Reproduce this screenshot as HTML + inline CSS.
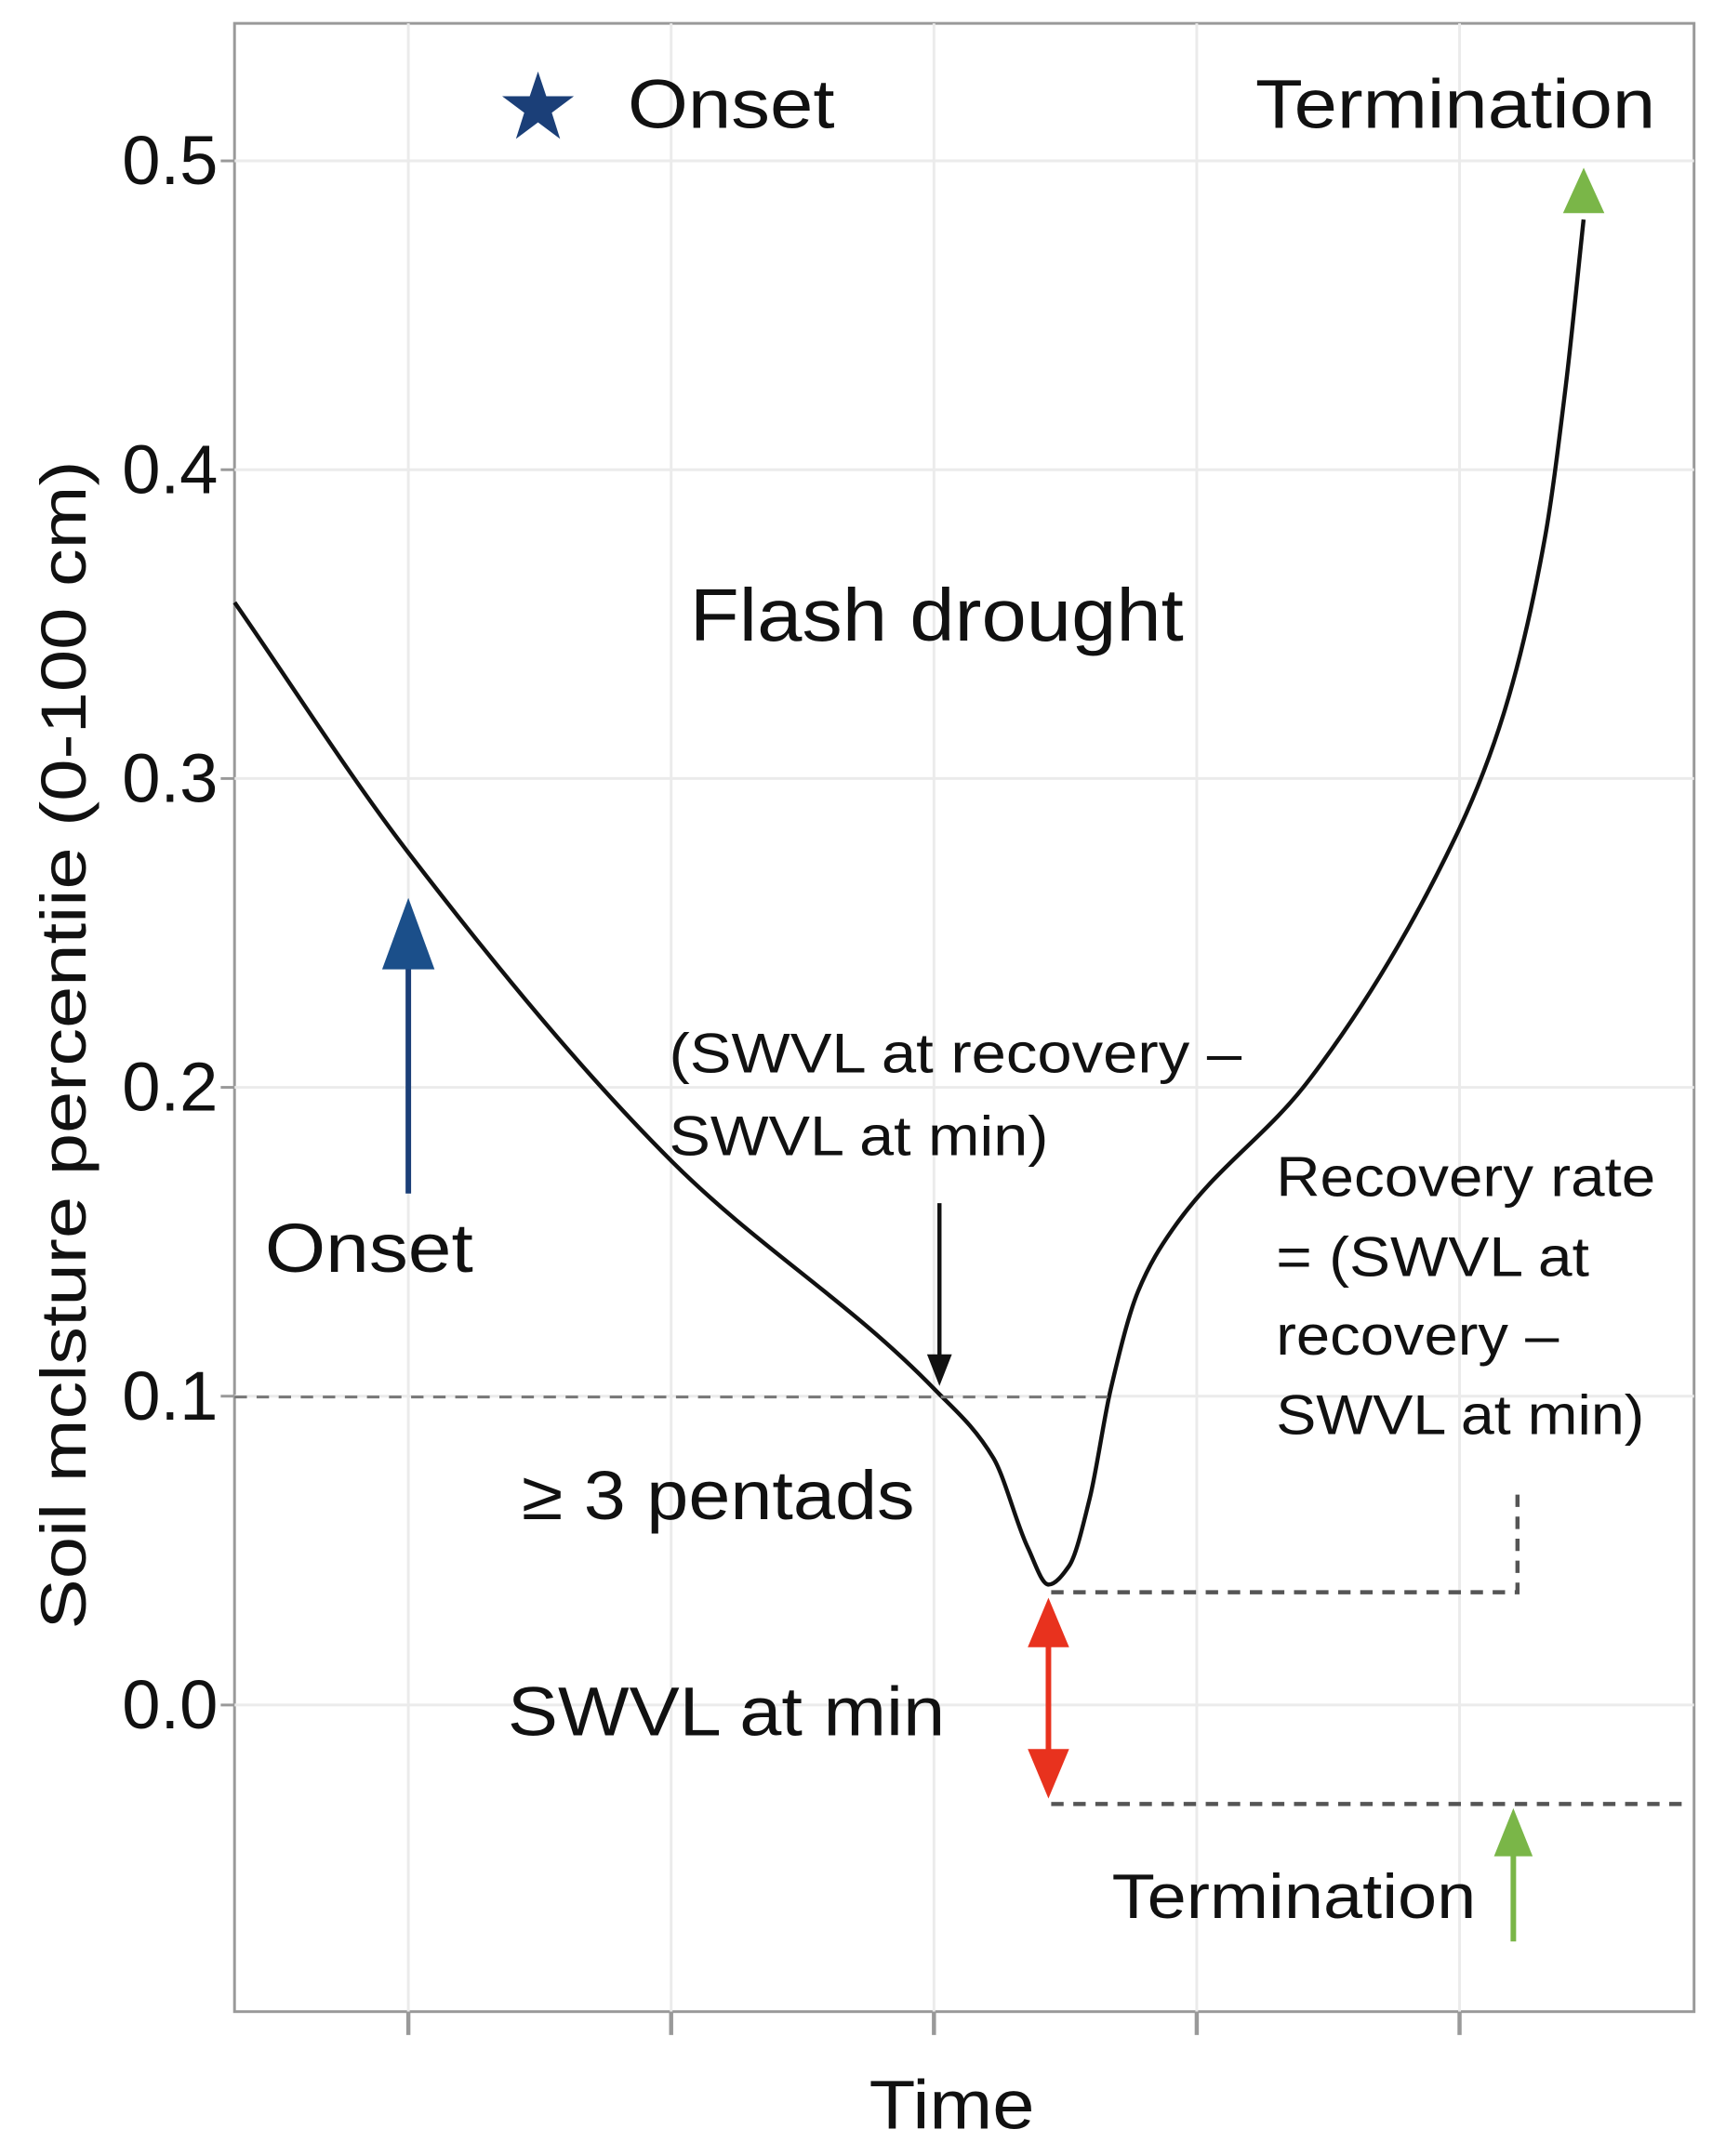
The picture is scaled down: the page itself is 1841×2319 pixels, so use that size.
<!DOCTYPE html>
<html><head><meta charset="utf-8"><style>
html,body{margin:0;padding:0;background:#fff;}
svg{display:block;}
text{font-family:"Liberation Sans",Arial,sans-serif;fill:#111;}
</style></head>
<body>
<svg id="chart" width="1841" height="2319" viewBox="0 0 1241 1568" preserveAspectRatio="none" xmlns="http://www.w3.org/2000/svg">
<rect x="170" y="17" width="1058" height="1446" fill="#fff" stroke="#999" stroke-width="2"/>
<g id="grid"></g>
<g id="axes"></g>
<path id="curve" fill="none" stroke="#111" stroke-width="3"/>
<line x1="170" y1="1016" x2="810" y2="1016" stroke="#777" stroke-width="2" stroke-dasharray="9,7"/>
<polyline points="762,1158 1100,1158 1100,1082" fill="none" stroke="#555" stroke-width="3" stroke-dasharray="9,7"/>
<line x1="762" y1="1312" x2="1226" y2="1312" stroke="#555" stroke-width="3" stroke-dasharray="9,7"/>
<polygon fill="#1b3f78" points="390,52 396,70 416,70 400,82 406,101 390,89 374,101 380,82 364,70 384,70"/>
<text x="455" y="93" font-size="50" textLength="150" lengthAdjust="spacingAndGlyphs">Onset</text>
<text x="910" y="93" font-size="50" textLength="290" lengthAdjust="spacingAndGlyphs">Termination</text>
<polygon fill="#7ab648" points="1148,122 1133,155 1163,155"/>
<line x1="296" y1="868" x2="296" y2="700" stroke="#1b3f78" stroke-width="4"/>
<polygon fill="#1b4f8a" points="296,653 277,705 315,705"/>
<text x="192" y="925" font-size="50" textLength="151" lengthAdjust="spacingAndGlyphs">Onset</text>
<text x="500" y="466" font-size="54" textLength="358" lengthAdjust="spacingAndGlyphs">Flash drought</text>
<text x="485" y="780" font-size="41" textLength="415" lengthAdjust="spacingAndGlyphs">(SWVL at recovery –</text>
<text x="485" y="840" font-size="41" textLength="275" lengthAdjust="spacingAndGlyphs">SWVL at min)</text>
<line x1="681" y1="875" x2="681" y2="990" stroke="#111" stroke-width="3"/>
<polygon fill="#111" points="681,1008 672,985 690,985"/>
<text x="378" y="1105" font-size="50" textLength="285" lengthAdjust="spacingAndGlyphs">≥ 3 pentads</text>
<text x="368" y="1262" font-size="50" textLength="317" lengthAdjust="spacingAndGlyphs">SWVL at min</text>
<line x1="760" y1="1190" x2="760" y2="1280" stroke="#e8321e" stroke-width="4"/>
<polygon fill="#e8321e" points="760,1162 745,1198 775,1198"/>
<polygon fill="#e8321e" points="760,1308 745,1272 775,1272"/>
<text x="806" y="1395" font-size="46" textLength="264" lengthAdjust="spacingAndGlyphs">Termination</text>
<line x1="1097" y1="1412" x2="1097" y2="1340" stroke="#7ab648" stroke-width="4"/>
<polygon fill="#7ab648" points="1097,1315 1083,1350 1111,1350"/>
<g font-size="41">
<text x="925" y="870" textLength="275" lengthAdjust="spacingAndGlyphs">Recovery rate</text>
<text x="925" y="928" textLength="227" lengthAdjust="spacingAndGlyphs">= (SWVL at</text>
<text x="925" y="985" textLength="205" lengthAdjust="spacingAndGlyphs">recovery –</text>
<text x="925" y="1043" textLength="267" lengthAdjust="spacingAndGlyphs">SWVL at min)</text>
</g>
<text font-size="46" text-anchor="middle" textLength="850" lengthAdjust="spacingAndGlyphs" transform="translate(62,760) rotate(-90)">Soil mclsture percentiie (0-100 cm)</text>
<text x="690" y="1548" font-size="50" text-anchor="middle" textLength="120" lengthAdjust="spacingAndGlyphs">Time</text>
</svg>
<script>
const yTicks=[0.0,0.1,0.2,0.3,0.4,0.5];
const yTickLabels=["0.0","0.1","0.2","0.3","0.4","0.5"];
const xTicks=[1,2,3,4,5];
const timeVals=[0.339,1,2.003,3.005,3.226,3.357,3.436,3.514,3.593,3.672,3.777,3.908,4.433,4.984,5.168,5.325,5.404,5.472];
const smVals=[0.357,0.276,0.176,0.102,0.080,0.051,0.039,0.045,0.067,0.102,0.134,0.154,0.203,0.281,0.321,0.378,0.427,0.481];
const NS="http://www.w3.org/2000/svg";
function xS(t){return 296+(t-1)*190.5;}
function yS(v){return 1240-v*2246;}
const grid=document.getElementById('grid'),axes=document.getElementById('axes');
yTicks.forEach((v,i)=>{
 const g=document.createElementNS(NS,'line');
 
 
 g.setAttribute('x1',170);g.setAttribute('x2',1228);g.setAttribute('y1',yS(v));g.setAttribute('y2',yS(v));
 g.setAttribute('stroke','#ebebeb');g.setAttribute('stroke-width','2');grid.appendChild(g);
 const tk=document.createElementNS(NS,'line');
 
 
 tk.setAttribute('x1',160);tk.setAttribute('x2',170);tk.setAttribute('y1',yS(v));tk.setAttribute('y2',yS(v));
 tk.setAttribute('stroke','#999');tk.setAttribute('stroke-width','2');axes.appendChild(tk);
 const t=document.createElementNS(NS,'text');
 
 
 t.setAttribute('x',158);t.setAttribute('y',yS(v)+17);t.setAttribute('text-anchor','end');t.setAttribute('font-size','50');
 t.textContent=yTickLabels[i];axes.appendChild(t);
});
xTicks.forEach(v=>{
 const g=document.createElementNS(NS,'line');
 
 
 g.setAttribute('x1',xS(v));g.setAttribute('x2',xS(v));g.setAttribute('y1',17);g.setAttribute('y2',1463);
 g.setAttribute('stroke','#ebebeb');g.setAttribute('stroke-width','2');grid.appendChild(g);
 const tk=document.createElementNS(NS,'line');
 
 
 tk.setAttribute('x1',xS(v));tk.setAttribute('x2',xS(v));tk.setAttribute('y1',1463);tk.setAttribute('y2',1480);
 tk.setAttribute('stroke','#999');tk.setAttribute('stroke-width','3');axes.appendChild(tk);
});
// monotone cubic (Fritsch-Carlson) in pixel space
const px=timeVals.map(xS), py=smVals.map(yS), n=px.length;
const dx=[],m=[];
for(let i=0;i<n-1;i++){dx.push(px[i+1]-px[i]);m.push((py[i+1]-py[i])/dx[i]);}
const tan=[m[0]];
for(let i=1;i<n-1;i++){
 if(m[i-1]*m[i]<=0) tan.push(0);
 else {const w1=2*dx[i]+dx[i-1],w2=dx[i]+2*dx[i-1];tan.push((w1+w2)/(w1/m[i-1]+w2/m[i]));}
}
tan.push(m[n-2]);
let d='M'+px[0]+','+py[0];
for(let i=0;i<n-1;i++){
 const h=dx[i]/3;
 d+=' C'+(px[i]+h)+','+(py[i]+tan[i]*h)+' '+(px[i+1]-h)+','+(py[i+1]-tan[i+1]*h)+' '+px[i+1]+','+py[i+1];
}
document.getElementById('curve').setAttribute('d',d);
</script>
</body></html>
